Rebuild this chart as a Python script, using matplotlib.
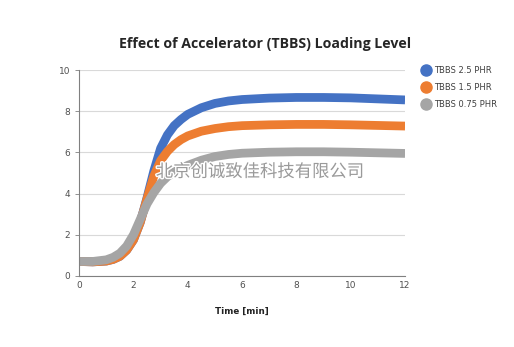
import matplotlib
matplotlib.use("Agg")
import matplotlib.pyplot as plt
import matplotlib.patheffects as pe
from matplotlib.lines import Line2D

time = [0, 0.5, 1.0, 1.25, 1.5, 1.75, 2.0, 2.25, 2.5, 2.75, 3.0, 3.25, 3.5, 3.75, 4.0, 4.5, 5.0, 5.5, 6.0, 7.0, 8.0, 9.0, 10.0, 11.0, 12.0]
tbbs_25 = [0.70, 0.68, 0.72, 0.80, 0.95, 1.25, 1.75, 2.60, 3.80, 5.10, 6.20, 6.85, 7.30, 7.60, 7.85, 8.17, 8.38, 8.50, 8.57, 8.64, 8.67, 8.67, 8.65, 8.60, 8.55]
tbbs_15 = [0.70, 0.68, 0.72, 0.80, 0.95, 1.25, 1.75, 2.60, 3.75, 4.85, 5.60, 6.05, 6.38, 6.62, 6.80, 7.03, 7.16, 7.25, 7.30, 7.34, 7.36, 7.36, 7.34, 7.31, 7.28]
tbbs_075 = [0.70, 0.70, 0.78, 0.90, 1.10, 1.45, 2.00, 2.75, 3.50, 4.05, 4.50, 4.82, 5.05, 5.22, 5.37, 5.62, 5.80, 5.90, 5.96, 6.01, 6.03, 6.03, 6.01, 5.98, 5.95]

series = [("TBBS 2.5 PHR", tbbs_25, "#4472C4"),
          ("TBBS 1.5 PHR", tbbs_15, "#ED7D31"),
          ("TBBS 0.75 PHR", tbbs_075, "#A5A5A5")]

fig = plt.figure(figsize=(5.14, 3.47), dpi=100)
ax = fig.add_axes([0.154, 0.205, 0.634, 0.593])

for name, vals, col in series:
    ax.plot(time, vals, color=col, lw=6.3, solid_capstyle="butt", solid_joinstyle="round")

ax.set_xlim(0, 12)
ax.set_ylim(0, 10)
ax.set_xticks(range(0, 13, 2))
ax.set_yticks(range(0, 11, 2))
ax.grid(axis="y", color="#D9D9D9", lw=0.8)
ax.set_axisbelow(True)
for s in ["top", "right"]:
    ax.spines[s].set_visible(False)
for s in ["left", "bottom"]:
    ax.spines[s].set_color("#808080")
    ax.spines[s].set_linewidth(0.8)
ax.tick_params(axis="both", labelsize=6.5, colors="#505050", length=3, width=0.6, color="#808080")
ax.tick_params(axis="x", length=0, pad=4)

ax.set_xlabel("Time [min]", fontsize=6.3, fontweight="bold", labelpad=12, family="DejaVu Sans", color="#222222")
fig.text(0.515, 0.872, "Effect of Accelerator (TBBS) Loading Level", ha="center", va="center",
         fontsize=10.2, fontweight="bold", family="Open Sans", color="#262626")

handles = [Line2D([], [], marker="o", ls="none", markersize=8, color=c) for _, _, c in series]
fig.legend(handles, [n for n, _, _ in series], loc="upper left", bbox_to_anchor=(0.807, 0.832),
           frameon=False, fontsize=6.0, handletextpad=0.45, labelspacing=0.95, handlelength=1.0,
           labelcolor="#404040")

fig.text(0.506, 0.505, "北京创诚致佳科技有限公司", ha="center", va="center", fontsize=12.5,
         family=["Noto Sans CJK SC", "DejaVu Sans"], color="#9A9A9A",
         path_effects=[pe.withStroke(linewidth=2, foreground="white")])

fig.savefig("out.png", dpi=100)
